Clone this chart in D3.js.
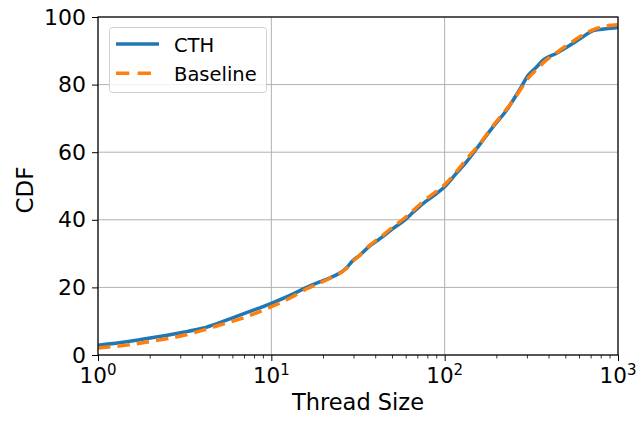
<!DOCTYPE html>
<html>
<head>
<meta charset="utf-8">
<script src="https://cdn.jsdelivr.net/npm/d3@7"></script>
<style>
body { margin: 0; background: #fff; }
svg { font-family: "DejaVu Sans", sans-serif; }
</style>
</head>
<body>
<svg id="chart" width="639" height="423"></svg>
<script>
const threadSizes = [1, 1.5, 2, 3, 4, 5, 7, 10, 13, 16, 19, 22, 27.2, 29.1, 32.5, 37, 42, 50, 59, 66, 75, 90, 100, 117, 134, 160, 190, 228, 270, 304, 340, 371, 443, 531, 631, 721, 850, 1000];
const cthCdf = [2.9, 4.0, 5.0, 6.6, 7.9, 9.5, 12.3, 15.3, 17.8, 20.0, 21.6, 22.9, 25.8, 27.6, 29.6, 32.3, 34.3, 37.3, 40.0, 42.3, 44.8, 47.8, 49.8, 53.8, 57.2, 62.4, 67.5, 72.5, 78.4, 82.8, 85.3, 87.3, 89.3, 91.7, 94.2, 96.0, 96.5, 96.9];
const baselineCdf = [2.1, 3.0, 4.0, 5.6, 7.3, 8.8, 11.1, 14.3, 17.0, 19.6, 21.3, 22.8, 25.7, 27.4, 29.6, 32.5, 34.6, 37.8, 40.6, 42.8, 45.4, 48.5, 50.4, 54.3, 58.0, 62.6, 67.8, 72.8, 78.0, 82.0, 84.5, 86.5, 89.5, 92.3, 94.8, 96.3, 97.3, 97.7];
const xMajorTicks = [1, 10, 100, 1000];
const xTickExponents = ["0", "1", "2", "3"];
const yTicks = [0, 20, 40, 60, 80, 100];
const seriesNames = ["CTH", "Baseline"];

const svg = d3.select("#chart");
const pL = 98, pR = 618, pT = 17, pB = 355;
const x = d3.scaleLog().domain([1, 1000]).range([pL, pR]);
const y = d3.scaleLinear().domain([0, 100]).range([pB, pT]);

const grid = svg.append("g").attr("stroke", "#b0b0b0").attr("stroke-width", 1);
xMajorTicks.forEach(t => grid.append("line").attr("x1", x(t)).attr("x2", x(t)).attr("y1", pT).attr("y2", pB));
yTicks.forEach(t => grid.append("line").attr("x1", pL).attr("x2", pR).attr("y1", y(t)).attr("y2", y(t)));

svg.append("clipPath").attr("id", "clip").append("rect")
  .attr("x", pL).attr("y", pT - 3).attr("width", pR - pL).attr("height", pB - pT + 3);

const dash = "12.5,7";
const line = d3.line().x(d => x(d[0])).y(d => y(d[1])).curve(d3.curveMonotoneX);
const plot = svg.append("g").attr("clip-path", "url(#clip)");
plot.append("path").datum(threadSizes.map((t, i) => [t, cthCdf[i]]))
  .attr("d", line).attr("fill", "none").attr("stroke", "#1f77b4").attr("stroke-width", 3.5);
plot.append("path").datum(threadSizes.map((t, i) => [t, baselineCdf[i]]))
  .attr("d", line).attr("fill", "none").attr("stroke", "#ff7f0e").attr("stroke-width", 3.5)
  .attr("stroke-dasharray", dash);

// axes
const xAxis = d3.axisBottom(x).tickValues(xMajorTicks).tickSize(6).tickFormat("");
const gx = svg.append("g").attr("transform", `translate(0,${pB})`).call(xAxis);
const minor = [];
for (let d = 1; d < 1000; d *= 10) for (let k = 2; k <= 9; k++) minor.push(d * k);
gx.selectAll(".minor").data(minor).enter().append("line").attr("class", "minor")
  .attr("x1", d => x(d)).attr("x2", d => x(d)).attr("y1", 0).attr("y2", 3.5)
  .attr("stroke", "#000").attr("stroke-width", 0.8);
gx.select(".domain").remove();
gx.selectAll(".tick line").attr("stroke", "#000").attr("stroke-width", 1);

xMajorTicks.forEach((t, i) => {
  const tx = svg.append("text").attr("x", x(t)).attr("y", 383).attr("text-anchor", "middle")
    .attr("font-size", 21.5).attr("fill", "#000");
  tx.append("tspan").text("10");
  tx.append("tspan").attr("dy", -8).attr("font-size", 15).text(xTickExponents[i]);
});

const yAxis = d3.axisLeft(y).tickValues(yTicks).tickSize(6).tickPadding(6);
const gy = svg.append("g").attr("transform", `translate(${pL},0)`).call(yAxis);
gy.select(".domain").remove();
gy.selectAll(".tick line").attr("stroke", "#000").attr("stroke-width", 1);
gy.selectAll(".tick text").attr("font-size", 22).attr("font-family", "DejaVu Sans").attr("fill", "#000");

svg.append("rect").attr("x", pL).attr("y", pT).attr("width", pR - pL).attr("height", pB - pT)
  .attr("fill", "none").attr("stroke", "#000").attr("stroke-width", 1.2);

svg.append("text").attr("x", 358).attr("y", 410).attr("text-anchor", "middle")
  .attr("font-size", 22.5).text("Thread Size");
svg.append("text").attr("transform", "translate(33,190) rotate(-90)").attr("text-anchor", "middle")
  .attr("font-size", 23).text("CDF");

// legend
const lg = svg.append("g");
lg.append("rect").attr("x", 109.5).attr("y", 27.5).attr("width", 157).attr("height", 65).attr("rx", 3)
  .attr("fill", "#fff").attr("fill-opacity", 0.8).attr("stroke", "#d0d0d0").attr("stroke-width", 1);
const colors = ["#1f77b4", "#ff7f0e"];
seriesNames.forEach((n, i) => {
  const ly = 44 + i * 29.3;
  const l = lg.append("line").attr("x1", 116).attr("x2", 159).attr("y1", ly).attr("y2", ly)
    .attr("stroke", colors[i]).attr("stroke-width", 3.5);
  if (i === 1) l.attr("stroke-dasharray", "13.3,8.3");
  lg.append("text").attr("x", 174).attr("y", ly + 7.5).attr("font-size", 19.5).text(n);
});
</script>
</body>
</html>
